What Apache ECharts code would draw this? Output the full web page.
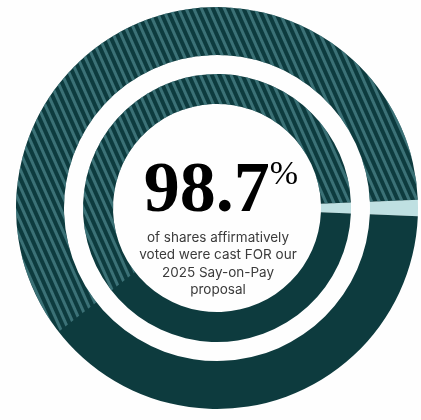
<!DOCTYPE html>
<html>
<head>
<meta charset="utf-8">
<script src="https://cdn.jsdelivr.net/npm/echarts@6/dist/echarts.min.js"></script>
<style>
  html, body { margin: 0; padding: 0; background: #fefefe; }
  #chart { width: 421px; height: 420px; }
</style>
</head>
<body>
<div id="chart"></div>
<script>
// Say-on-Pay vote result
const voteLabels = ['FOR', 'Other'];
const voteShare = [98.7, 1.3];          // percent of shares affirmatively voted
const headlineSuffix = '%';
const captionLines = [
  'of shares affirmatively',
  'voted were cast FOR our',
  '2025 Say-on-Pay',
  'proposal'
];

// palette & geometry
const DARK = '#0d3b3e';
const LIGHT = '#bfe0e2';
const STRIPE = 'rgba(78,136,142,0.7)';
const CENTER = [217, 208];
const OUTER_RING = [153, 201];
const INNER_RING = [104, 134];
const HATCH_FROM = 218;                  // angle where the striped finish begins

const otherHalfAngle = voteShare[1] / 100 * 360 / 2;
const hatchSpan = HATCH_FROM - otherHalfAngle;

function ringSeries(radius) {
  return {
    type: 'pie',
    radius: radius,
    center: CENTER,
    startAngle: otherHalfAngle,
    clockwise: true,
    silent: true,
    label: { show: false },
    labelLine: { show: false },
    emphasis: { disabled: true },
    itemStyle: { borderWidth: 0 },
    data: [
      { name: voteLabels[1], value: voteShare[1], itemStyle: { color: LIGHT } },
      { name: voteLabels[0], value: voteShare[0], itemStyle: { color: DARK } }
    ]
  };
}

function hatchSeries(radius) {
  return {
    type: 'pie',
    radius: radius,
    center: CENTER,
    startAngle: HATCH_FROM,
    clockwise: true,
    silent: true,
    label: { show: false },
    labelLine: { show: false },
    emphasis: { disabled: true },
    data: [
      {
        value: hatchSpan,
        itemStyle: {
          color: 'rgba(0,0,0,0)',
          decal: {
            symbol: 'rect',
            symbolSize: 1,
            dashArrayX: [1, 0],
            dashArrayY: [2.5, 4],
            rotation: Math.PI * 66 / 180,
            color: STRIPE
          }
        }
      },
      { value: 360 - hatchSpan, itemStyle: { color: 'rgba(0,0,0,0)' } }
    ]
  };
}

const chart = echarts.init(document.getElementById('chart'), null, { renderer: 'canvas' });
chart.setOption({
  animation: false,
  backgroundColor: '#fefefe',
  series: [
    ringSeries(OUTER_RING),
    ringSeries(INNER_RING),
    hatchSeries(OUTER_RING),
    hatchSeries(INNER_RING)
  ],
  graphic: [
    {
      type: 'text',
      style: {
        x: 221,
        y: 193,
        text: '{num|' + voteShare[0].toFixed(1) + '}{pct|' + headlineSuffix + '}',
        align: 'center',
        verticalAlign: 'middle',
        rich: {
          num: {
            fontFamily: '"Liberation Serif", serif',
            fontSize: 72,
            fontWeight: 'bold',
            color: DARK,
            lineHeight: 70,
            verticalAlign: 'bottom'
          },
          pct: {
            fontFamily: '"Liberation Serif", serif',
            fontSize: 34,
            color: DARK,
            lineHeight: 66,
            verticalAlign: 'top'
          }
        }
      }
    },
    {
      type: 'text',
      style: {
        x: 218,
        y: 264,
        text: captionLines.join('\n'),
        align: 'center',
        verticalAlign: 'middle',
        fontFamily: 'Inter, sans-serif',
        fontSize: 13.5,
        lineHeight: 17.5,
        fill: '#3b3b3b'
      }
    }
  ]
});
</script>
</body>
</html>
